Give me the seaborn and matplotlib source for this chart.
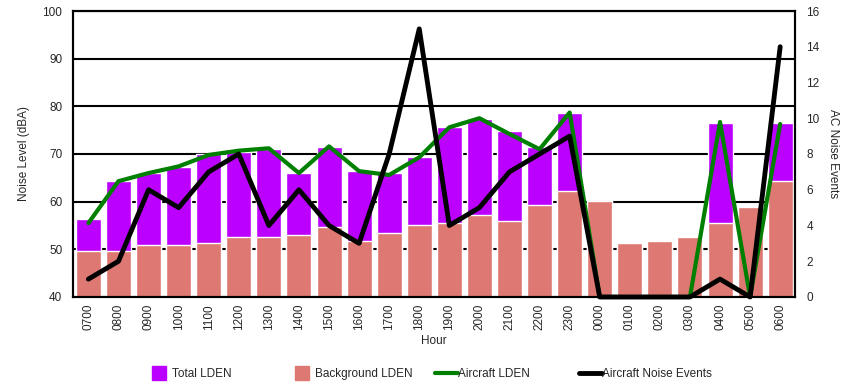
import numpy as np
import pandas as pd
import seaborn as sns
from matplotlib import pyplot as plt
from matplotlib.lines import Line2D

hours = ["0700", "0800", "0900", "1000", "1100", "1200", "1300", "1400",
         "1500", "1600", "1700", "1800", "1900", "2000", "2100", "2200",
         "2300", "0000", "0100", "0200", "0300", "0400", "0500", "0600"]
total_lden = [56.3, 64.3, 66.0, 67.3, 69.9, 70.5, 71.0, 66.0, 71.4, 66.4,
              66.0, 69.4, 75.6, 77.3, 74.8, 71.4, 78.6, 60.1, 51.3, 51.7,
              52.6, 76.5, 58.9, 76.5]
background_lden = [49.6, 49.6, 50.9, 50.9, 51.3, 52.6, 52.6, 53.0, 54.7, 51.7,
                   53.4, 55.1, 55.5, 57.2, 55.9, 59.3, 62.2, 60.1, 51.3, 51.7,
                   52.6, 55.5, 58.9, 64.3]
aircraft_lden = [55.5, 64.3, 66.0, 67.4, 69.8, 70.7, 71.2, 66.0, 71.6, 66.4,
                 65.6, 69.3, 75.6, 77.5, 74.2, 71.0, 78.7, 40, 40, 40,
                 40, 76.7, 40, 76.3]
noise_events = [1, 2, 6, 5, 7, 8, 4, 6, 4, 3, 8, 15, 4, 5, 7, 8, 9, 0, 0, 0,
                0, 1, 0, 14]

purple = '#BB00FF'
salmon = '#DE7872'
green = '#008000'

sns.set_style('white')
plt.rcParams['font.family'] = ['Liberation Sans', 'DejaVu Sans']
plt.rcParams['font.size'] = 8.5

df = pd.DataFrame({'hour': hours, 'total': total_lden, 'bg': background_lden,
                   'aircraft': aircraft_lden, 'events': noise_events})
df['pos'] = np.arange(len(df))

fig = plt.figure(figsize=(8.56, 3.85), dpi=100)
ax = fig.add_axes([0.0857, 0.2286, 0.8433, 0.7428])

sns.barplot(data=df, x='hour', y='total', order=hours, color=purple,
            saturation=1, width=0.83, errorbar=None, ax=ax, zorder=2)
sns.barplot(data=df, x='hour', y='bg', order=hours, color=salmon,
            saturation=1, width=0.83, errorbar=None, ax=ax, zorder=2)
sns.lineplot(data=df, x='pos', y='aircraft', color=green, lw=3, ax=ax,
             zorder=4, clip_on=False)

ax.set_ylim(40, 100)
ax.set_xlim(-0.5, 23.5)
ax.set_yticks(range(40, 101, 10))
ax.yaxis.grid(True, color='black', lw=1.5)
ax.set_axisbelow(True)
ax.set_xticks(range(len(hours)))
ax.set_xticklabels(hours, rotation=90)
ax.tick_params(length=0, labelsize=8.5)
ax.tick_params(axis='x', pad=5)
ax.tick_params(axis='y', pad=8)
ax.set_xlabel('Hour', fontsize=8.5, labelpad=3)
ax.set_ylabel('Noise Level (dBA)', fontsize=8.5, labelpad=9)

ax2 = ax.twinx()
sns.lineplot(data=df, x='pos', y='events', color='black', lw=3.5, ax=ax2,
             zorder=5, clip_on=False)
ax2.set_ylim(0, 16)
ax2.set_yticks(range(0, 17, 2))
ax2.tick_params(length=0, pad=8, labelsize=8.5)
ax2.set_ylabel('AC Noise Events', fontsize=8.5, rotation=270, labelpad=14)
ax2.set_xlim(-0.5, 23.5)

for a in (ax, ax2):
    for s in a.spines.values():
        s.set_color('black')
        s.set_linewidth(1.5)

# legend entries spread out like the original
entries = [
    (Line2D([], [], marker='s', ls='none', markersize=10, color=purple), 'Total LDEN', 0.179, 0.6),
    (Line2D([], [], marker='s', ls='none', markersize=10, color=salmon), 'Background LDEN', 0.346, 0.6),
    (Line2D([], [], color=green, lw=3), 'Aircraft LDEN', 0.508, 0.0),
    (Line2D([], [], color='black', lw=3.5), 'Aircraft Noise Events', 0.676, 0.0),
]
for h, lab, xpos, tpad in entries:
    fig.legend(handles=[h], labels=[lab], loc='center left',
               bbox_to_anchor=(xpos, 0.028), frameon=False, fontsize=8.5,
               handlelength=2.0 if tpad == 0 else 1.0, handletextpad=tpad,
               borderpad=0, borderaxespad=0)

fig.savefig('out.png', dpi=100)
